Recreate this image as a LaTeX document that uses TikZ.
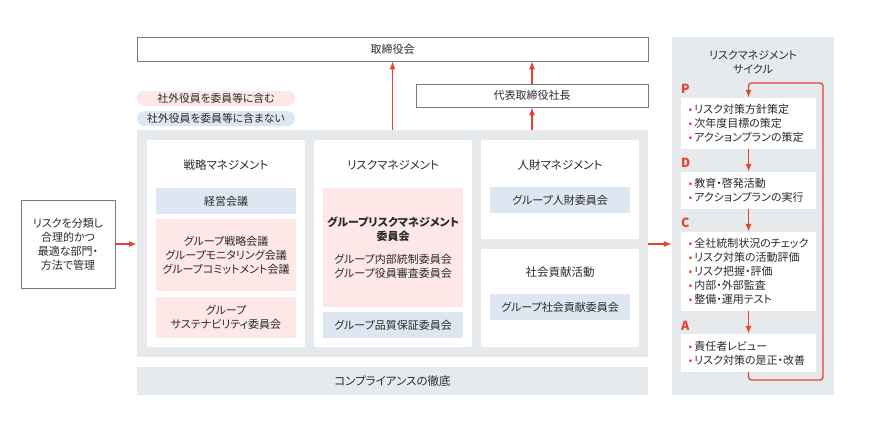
\documentclass[tikz,border=0pt]{standalone}
\usepackage{fontspec}
\setmainfont{Noto Sans CJK JP}[RawFeature=+palt]
\usetikzlibrary{arrows.meta,positioning,calc}
\definecolor{rmred}{HTML}{E8412F}
\definecolor{rmgray}{HTML}{E6EAED}
\definecolor{rmpink}{HTML}{FDE8E7}
\definecolor{rmblue}{HTML}{DDE6F1}
\definecolor{rmline}{HTML}{7A7A7A}
\definecolor{rmtext}{HTML}{2A2A2A}
\newcommand\rmbul{\hspace*{2.5pt}{\color{rmred}\textbullet}\hspace{2pt}}
\tikzset{
    txt/.style={font=\fontsize{11}{14}\selectfont, text=rmtext},
    panel/.style={fill=rmgray, inner sep=0pt},
    card/.style={fill=white, rounded corners=2pt, inner sep=0pt, minimum width=158pt},
    frame/.style={draw=rmline, fill=white, line width=0.6pt, inner sep=0pt, align=center, txt},
    pinkbox/.style={fill=rmpink, inner sep=0pt, minimum width=140pt, align=center, txt},
    bluebox/.style={fill=rmblue, inner sep=0pt, minimum width=140pt, align=center, txt},
    pill/.style={inner sep=0pt, minimum width=158pt, minimum height=15pt, rounded corners=7.5pt, txt, font=\fontsize{10.8}{12}\selectfont},
    heading/.style={txt, font=\fontsize{11.5}{14}\selectfont},
    stepbox/.style={fill=white, inner xsep=5pt, inner ysep=0pt, text width=125pt, align=left, txt},
    letter/.style={text=rmred, font=\fontsize{12.5}{12.5}\selectfont\bfseries, inner sep=0pt},
    flow/.style={-{Latex[length=8pt,width=6pt]}, draw=rmred, line width=1.3pt}
}
\begin{document}
\begin{tikzpicture}[x=1pt,y=-1pt]
\useasboundingbox (0,0) rectangle (880,432);
% top
\node [frame, minimum width=511pt, minimum height=24pt] (board) at (392.5,49) {取締役会};
\node [frame, minimum width=232pt, minimum height=23pt] (ceo) at (532,95.5) {代表取締役社長};
\node [pill, fill=rmpink] (legIn) at (216,98.5) {社外役員を委員等に含む};
\node [pill, fill=rmblue] (legOut) at (216,118.5) {社外役員を委員等に含まない};
% main area
\node [panel, minimum width=511pt, minimum height=227pt] (main) at (392.5,243.5) {};
\node [panel, minimum width=511pt, minimum height=28pt, heading] (comp) at (392.5,381) {コンプライアンスの徹底};
\node [card, minimum height=207pt] (strat) at (226,243.5) {};
\node [card, minimum height=207pt] (risk) at (393,243.5) {};
\node [card, minimum height=99pt] (hr) at (560,189.5) {};
\node [card, minimum height=98pt] (soc) at (560,298) {};
\node [heading] (stratT) at (226,165) {戦略マネジメント};
\node [heading] (riskT) at (393,165) {リスクマネジメント};
\node [heading] (hrT) at (560,165) {人財マネジメント};
\node [heading] (socT) at (560,272) {社会貢献活動};
% committees
\node [bluebox, minimum height=26pt] (keiei) at (226,201) {経営会議};
\node [pinkbox, minimum height=72pt] (group) at (226,255) {グループ戦略会議\\グループモニタリング会議\\グループコミットメント会議};
\node [pinkbox, minimum height=41pt] (sust) at (226,317.5) {グループ\\サステナビリティ委員会};
\node [pinkbox, minimum height=119pt] (grm) at (393,247.5) {{\bfseries グループリスクマネジメント}\\{\bfseries 委員会}\\[9pt]グループ内部統制委員会\\グループ役員審査委員会};
\node [bluebox, minimum height=26pt] (qa) at (393,325) {グループ品質保証委員会};
\node [bluebox, minimum height=26pt] (hrc) at (560,200) {グループ人財委員会};
\node [bluebox, minimum height=26pt] (socc) at (560,307) {グループ社会貢献委員会};
% left
\node [frame, minimum width=94pt, minimum height=88pt] (left) at (68,244) {リスクを分類し\\合理的かつ\\最適な部門・\\方法で管理};
% cycle
\node [panel, minimum width=162pt, minimum height=358pt] (cycle) at (753,216) {};
\node [heading, align=center, font=\fontsize{11}{14}\selectfont] (cycT) at (753,62) {リスクマネジメント\\サイクル};
\node [stepbox, minimum height=51pt] (P) at (748.5,123.5) {\rmbul リスク対策方針策定\\\rmbul 次年度目標の策定\\\rmbul アクションプランの策定};
\node [stepbox, minimum height=37pt] (D) at (748.5,190.5) {\rmbul 教育・啓発活動\\\rmbul アクションプランの実行};
\node [stepbox, minimum height=79pt] (C) at (748.5,271.5) {\rmbul 全社統制状況のチェック\\\rmbul リスク対策の活動評価\\\rmbul リスク把握・評価\\\rmbul 内部・外部監査\\\rmbul 整備・運用テスト};
\node [stepbox, minimum height=38pt] (A) at (748.5,353) {\rmbul 責任者レビュー\\\rmbul リスク対策の是正・改善};
\node [letter, anchor=west] (Pl) at (681,89) {P};
\node [letter, anchor=west] (Dl) at (681,163) {D};
\node [letter, anchor=west] (Cl) at (681,223) {C};
\node [letter, anchor=west] (Al) at (681,326) {A};
\coordinate (loopB) at (823,380);
\coordinate (loopT) at (823,83);
% arrows
\draw [flow] (main.north) -- (board.south);
\draw [flow] (ceo.south |- main.north) -- (ceo.south);
\draw [flow] (ceo.north) -- (ceo.north |- board.south);
\draw [flow] (left.east) -- (left.east -| main.west);
\draw [flow] (left.east -| main.east) -- (left.east -| cycle.west);
\foreach \a/\b in {P/D, D/C, C/A}
\draw [flow] (\a.south) -- (\b.north);
\draw [flow, rounded corners=3pt] (A.south) |- (loopB) -- (loopT) -| (P.north);
\end{tikzpicture}
\end{document}
